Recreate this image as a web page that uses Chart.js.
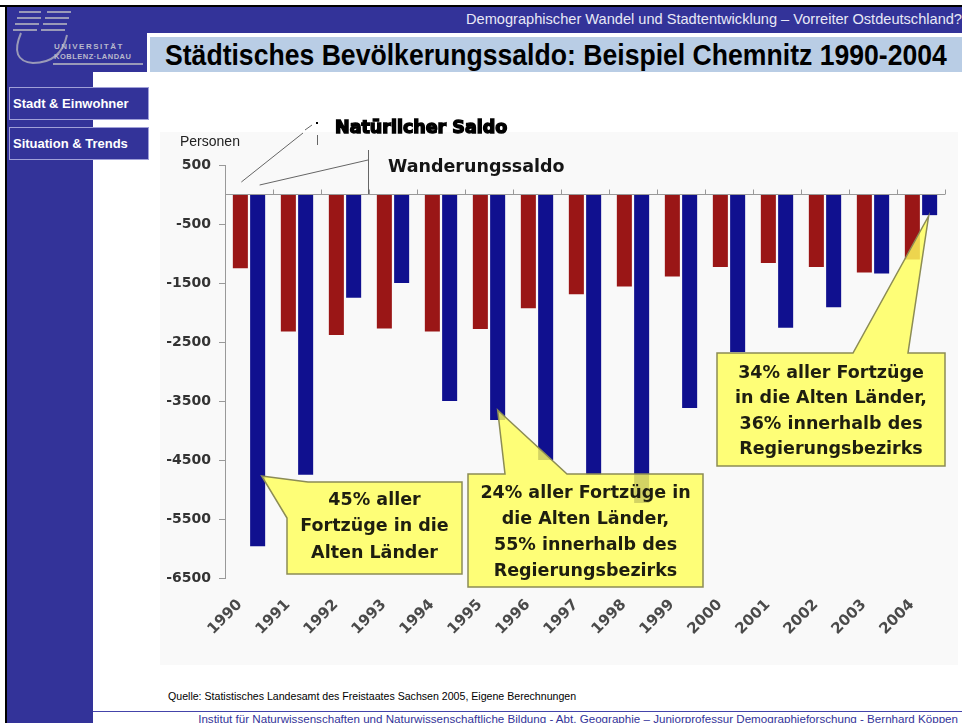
<!DOCTYPE html>
<html>
<head>
<meta charset="utf-8">
<script src="https://cdn.jsdelivr.net/npm/chart.js@4.4.0/dist/chart.umd.min.js"></script>
<style>
  html { overflow: hidden; }
  body { margin: 0; width: 962px; height: 723px; background: #fff; position: relative; overflow: hidden; font-family: "Liberation Sans", Arial, sans-serif; }
  .abs { position: absolute; }
  .blau { background: #333399; }
  .knopf { position: absolute; left: 9px; width: 135px; height: 31px; border: 1px solid #a0a0d8; background: #333399;
           color: #fff; font-weight: bold; font-size: 13px; line-height: 31px; padding-left: 3px; white-space: nowrap; }
</style>
</head>
<body>
<div class="abs" style="left:0;top:5px;width:962px;height:2px;background:#000"></div>
<div class="abs" style="left:5px;top:5px;width:2px;height:718px;background:#000"></div>
<div class="abs blau" style="left:7px;top:7px;width:955px;height:26px"></div>
<div class="abs blau" style="left:7px;top:33px;width:140px;height:39px"></div>
<div class="abs blau" style="left:7px;top:72px;width:86px;height:651px"></div>
<div class="abs" style="left:150px;top:37px;width:812px;height:35px;background:#b9cde5"></div>

<!-- Logo grob -->
<svg class="abs" style="left:7px;top:7px" width="140" height="65">
  <g stroke="#9a9ab8" stroke-width="2" fill="none">
    <path d="M12 5 h22 M40 5 h24 M10 11 h24 M38 11 h24 M8 17 h24 M36 17 h24 M6 23 h24 M34 23 h24"/>
    <path d="M14 26 q-12 28 12 30 q28 0 34 -28"/>
  </g>
  <text x="47" y="42" font-size="8" font-weight="bold" fill="#b8b8cc" letter-spacing="1.5" font-family="Liberation Sans">UNIVERSITÄT</text>
  <text x="47" y="52" font-size="7.5" font-weight="bold" fill="#b8b8cc" letter-spacing="0.5" font-family="Liberation Sans">KOBLENZ·LANDAU</text>
  <rect x="46" y="56" width="90" height="2" fill="#9a9ab8"/>
</svg>

<div class="abs" style="right:0;top:11px;color:#e8e8f6;font-size:14.6px;white-space:nowrap">Demographischer Wandel und Stadtentwicklung – Vorreiter Ostdeutschland?</div>
<div class="abs" style="left:165px;top:39px;font-weight:bold;font-size:26.6px;color:#000;white-space:nowrap;transform:scaleY(1.1);transform-origin:left top">Städtisches Bevölkerungssaldo: Beispiel Chemnitz 1990-2004</div>

<div class="knopf" style="top:87px">Stadt &amp; Einwohner</div>
<div class="knopf" style="top:127px">Situation &amp; Trends</div>

<canvas id="grafica-saldo" class="abs" style="left:160px;top:110px" width="798" height="555"></canvas>

<div class="abs" style="left:168px;top:690px;font-size:10.6px;color:#000;white-space:nowrap">Quelle: Statistisches Landesamt des Freistaates Sachsen 2005, Eigene Berechnungen</div>
<div class="abs" style="left:93px;top:711px;width:869px;height:1px;background:#4444aa"></div>
<div class="abs" style="right:4px;top:712px;font-size:11.6px;color:#333399;white-space:nowrap">Institut für Naturwissenschaften und Naturwissenschaftliche Bildung - Abt. Geographie – Juniorprofessur Demographieforschung - Bernhard Köppen</div>

<script>
const jahre = ['1990', '1991', '1992', '1993', '1994', '1995', '1996', '1997', '1998', '1999', '2000', '2001', '2002', '2003', '2004'];
const natuerlicherSaldo = [-1250, -2320, -2380, -2270, -2320, -2280, -1930, -1690, -1560, -1390, -1230, -1160, -1230, -1320, -1100];
const wanderungssaldo = [-5960, -4750, -1750, -1500, -3500, -3820, -4500, -4750, -5230, -3620, -2670, -2260, -1910, -1340, -350];
const yTicks = [500, -500, -1500, -2500, -3500, -4500, -5500, -6500];

const hinweise = [
  { bar: 0, tipDx: 4, tipY: 366, box: [127, 372, 302, 464], base: [[148, 372], [127, 408]],
    zeilen: ['45% aller', 'Fortzüge in die', 'Alten Länder'], y0: 390, dy: 26.5 },
  { bar: 5, tipDx: 0, tipY: 300, box: [308, 364, 543, 477], base: [[407, 364], [345, 364]],
    zeilen: ['24% aller Fortzüge in', 'die Alten Länder,', '55% innerhalb des', 'Regierungsbezirks'], y0: 383, dy: 26 },
  { bar: 14, tipDx: -1, tipY: 106, box: [557, 243, 785, 356], base: [[748, 243], [693, 243]],
    zeilen: ['34% aller Fortzüge', 'in die Alten Länder,', '36% innerhalb des', 'Regierungsbezirks'], y0: 263, dy: 25.5 }
];

function linie(ctx, x1, y1, x2, y2) {
  ctx.beginPath();
  ctx.moveTo(x1, y1);
  ctx.lineTo(x2, y2);
  ctx.stroke();
}

const deko = {
  id: 'deko',
  beforeDraw(chart) {
    const ctx = chart.ctx;
    ctx.save();
    ctx.fillStyle = '#f9f9f9';
    ctx.fillRect(0, 22, chart.width, 533);
    ctx.restore();
  },
  afterDatasetsDraw(chart) {
    const ctx = chart.ctx;
    const x = chart.scales.x, y = chart.scales.y;
    const y0 = y.getPixelForValue(0);
    ctx.save();
    ctx.strokeStyle = '#999';
    ctx.lineWidth = 1;
    linie(ctx, chart.chartArea.left, y0, chart.chartArea.right, y0);
    for (let i = 0; i <= jahre.length; i++) {
      const px = Math.round(x.getPixelForValue(i - 0.5)) + 0.5;
      linie(ctx, px, y0 - 5, px, y0);
    }
    ctx.restore();
  },
  afterDraw(chart) {
    const ctx = chart.ctx;
    const rot = chart.getDatasetMeta(0).data;
    const blau = chart.getDatasetMeta(1).data;
    ctx.save();

    // Personen
    ctx.fillStyle = '#222';
    ctx.font = '14px "Liberation Sans", Arial';
    ctx.textBaseline = 'middle';
    ctx.fillText('Personen', 20, 32);

    // Beschriftung der Reihen mit Linien
    ctx.strokeStyle = '#666';
    ctx.lineWidth = 1;
    linie(ctx, rot[0].x + 1, 72, 143, 23);
    linie(ctx, 145, 20, 152, 15);
    linie(ctx, 157.5, 25, 157.5, 35);
    ctx.fillStyle = '#000';
    ctx.fillRect(156, 12, 2, 2);
    linie(ctx, blau[0].x + 2, 75, 208, 50);
    linie(ctx, 208.5, 40, 208.5, 84);

    ctx.font = 'bold 17.5px "DejaVu Sans"';
    ctx.fillStyle = '#000';
    ctx.strokeStyle = '#000';
    ctx.lineWidth = 1.4;
    ctx.fillText('Natürlicher Saldo', 175, 18);
    ctx.strokeText('Natürlicher Saldo', 175, 18);
    ctx.fillStyle = '#151515';
    ctx.fillText('Wanderungssaldo', 228, 57);

    // Sprechblasen
    hinweise.forEach(h => {
      const [l, t, r, b] = h.box;
      const tx = blau[h.bar].x + h.tipDx, ty = h.tipY;
      ctx.beginPath();
      ctx.moveTo(tx, ty);
      ctx.lineTo(h.base[0][0], h.base[0][1]);
      if (h.bar === 0) {
        ctx.lineTo(r, t); ctx.lineTo(r, b); ctx.lineTo(l, b);
      } else {
        [[r, t], [r, b], [l, b], [l, t]].forEach(p => ctx.lineTo(p[0], p[1]));
      }
      ctx.lineTo(h.base[1][0], h.base[1][1]);
      ctx.closePath();
      ctx.fillStyle = 'rgba(255, 255, 90, 0.82)';
      ctx.fill();
      ctx.strokeStyle = '#8c8c55';
      ctx.lineWidth = 1.5;
      ctx.stroke();

      ctx.fillStyle = '#1e1e10';
      ctx.font = 'bold 17.5px "DejaVu Sans"';
      ctx.textAlign = 'center';
      ctx.textBaseline = 'middle';
      h.zeilen.forEach((z, i) => ctx.fillText(z, (l + r) / 2, h.y0 + i * h.dy));
      ctx.textAlign = 'left';
    });
    ctx.restore();
  }
};

const ctx = document.getElementById('grafica-saldo').getContext('2d');
new Chart(ctx, {
  type: 'bar',
  data: {
    labels: jahre,
    datasets: [{
      label: 'Natürlicher Saldo',
      data: natuerlicherSaldo,
      backgroundColor: '#9a1616',
      categoryPercentage: 0.72,
      barPercentage: 0.87
    }, {
      label: 'Wanderungssaldo',
      data: wanderungssaldo,
      backgroundColor: '#10108f',
      categoryPercentage: 0.72,
      barPercentage: 0.87
    }]
  },
  options: {
    responsive: false,
    animation: false,
    devicePixelRatio: 1,
    layout: { padding: { top: 55, right: 13, left: 0, bottom: 0 } },
    plugins: { legend: { display: false }, tooltip: { enabled: false } },
    scales: {
      x: {
        grid: { display: false },
        border: { display: false },
        ticks: {
          minRotation: 45,
          maxRotation: 45,
          padding: 10,
          labelOffset: -9,
          color: '#4a4a4a',
          font: { family: 'DejaVu Sans', weight: 'bold', size: 15 }
        },
        afterFit: s => { s.height = 87; }
      },
      y: {
        min: -6500,
        max: 500,
        afterBuildTicks: s => { s.ticks = yTicks.map(v => ({ value: v })); },
        grid: { drawOnChartArea: false, drawTicks: true, tickLength: 6, color: '#999' },
        border: { display: true, color: '#999' },
        ticks: {
          padding: 8,
          color: '#333',
          font: { family: 'DejaVu Sans', weight: 'bold', size: 14 },
          callback: v => String(v)
        },
        afterFit: s => { s.width = 65; }
      }
    }
  },
  plugins: [deko]
});
</script>
</body>
</html>
